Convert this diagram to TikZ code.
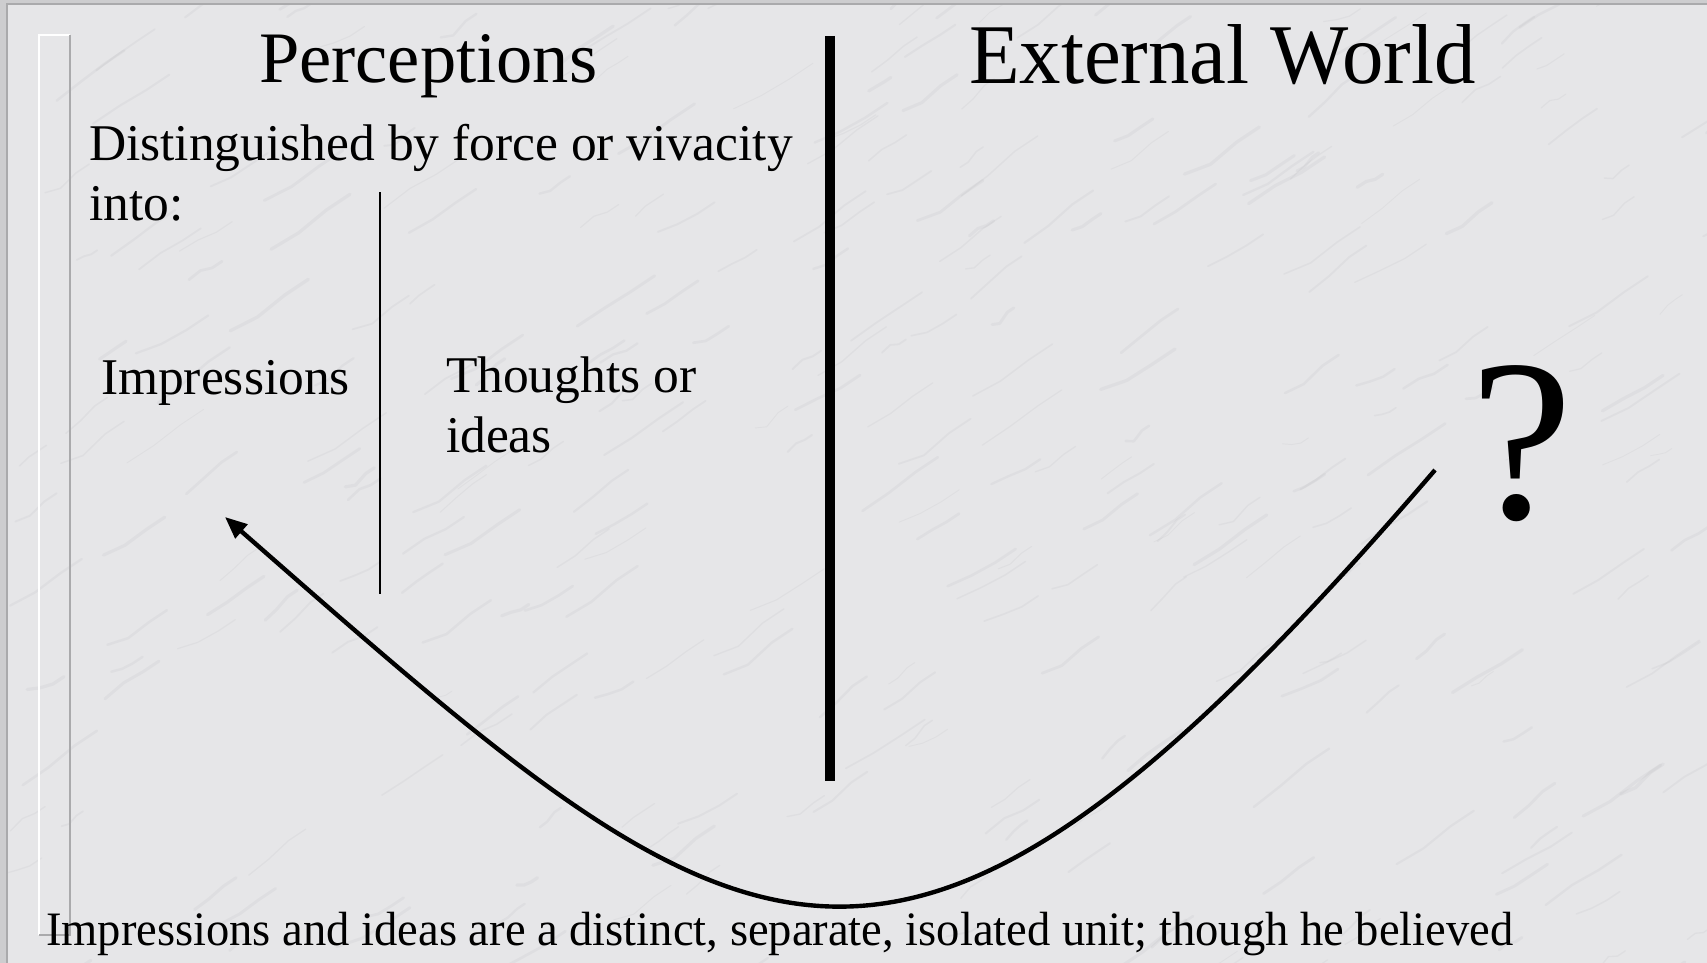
\documentclass[tikz,border=0pt]{standalone}
\usepackage{fontspec}
\setmainfont{Liberation Serif}
\usetikzlibrary{arrows.meta}
\definecolor{marble}{RGB}{230,230,232}
\definecolor{marbledark}{RGB}{205,205,207}
\definecolor{framegray}{RGB}{170,170,172}
\definecolor{vein}{RGB}{150,150,155}
\tikzset{
  txt/.style={inner sep=0pt, outer sep=0pt, text=black},
  mid/.style={txt, font=\fontsize{51.5}{60}\selectfont, anchor=base west},
  divider/.style={draw=black, line width=2pt},
  bigdivider/.style={draw=black, line width=10pt},
  link/.style={draw=black, line width=4.4pt, -{Triangle[length=22pt,width=18pt]}},
  veinline/.style={draw=vein, draw opacity=0.09, line cap=round, line join=round}
}
\begin{document}
\begin{tikzpicture}[x=1pt,y=-1pt]
\useasboundingbox (0,0) rectangle (1707,963);
% background
\fill[marbledark] (0,0) rectangle (1707,963);
\fill[marble] (7,4) rectangle (1707,963);
\begin{scope}
\clip (7,4) rectangle (1707,963);
\pgfmathsetseed{11}
\foreach \i in {1,...,320} {
  \pgfmathsetmacro{\xx}{rnd*1750}
  \pgfmathsetmacro{\yy}{rnd*1000}
  \pgfmathsetmacro{\ll}{20+rnd*60}
  \pgfmathsetmacro{\ww}{0.8+rnd*2.5}
  \pgfmathsetmacro{\ja}{(rnd-0.5)*12}
  \pgfmathsetmacro{\jb}{(rnd-0.5)*12}
  \draw[veinline, line width=\ww pt] (\xx,\yy) -- ++(0.35*\ll,-0.2*\ll+\ja) -- ++(0.35*\ll,-0.25*\ll+\jb) -- ++(0.3*\ll,-0.2*\ll);
}
\end{scope}
\draw[framegray, line width=1.5pt] (7,963) -- (7,4) -- (1707,4);
% embossed strip
\draw[white, line width=1.5pt] (39,935) -- (39,35) -- (70,35);
\draw[framegray, line width=1.5pt] (70,35) -- (70,935) -- (39,935);
% texts
\node[txt, font=\fontsize{72.5}{80}\selectfont, anchor=base west] (perc) at (259,83) {Perceptions};
\node[txt, font=\fontsize{85}{95}\selectfont, anchor=base west, xscale=0.975] (ext) at (969,84) {External World};
\node[mid] (dist1) at (89,160) {Distinguished by force or vivacity};
\node[mid] (dist2) at (89,220) {into:};
\node[mid] (impr) at (101,394) {Impressions};
\node[mid] (thou1) at (446,392) {Thoughts or};
\node[mid] (thou2) at (446,452) {ideas};
\node[txt, font=\fontsize{48}{56}\selectfont, anchor=base west, xscale=0.97] (bottom) at (46,945) {Impressions and ideas are a distinct, separate, isolated unit; though he believed};
\node[txt, font=\fontsize{231}{240}\selectfont, anchor=base] (quest) at (1522,518) {?};
% dividers
\coordinate (thinTop) at (380,192);
\coordinate (thinBot) at (380,594);
\coordinate (thickTop) at (830,36);
\coordinate (thickBot) at (830,781);
\draw[divider] (thinTop) -- (thinBot);
\draw[bigdivider] (thickTop) -- (thickBot);
% curved arrow
\coordinate (curveStart) at (1435,470);
\coordinate (impTip) at (225,517);
\draw[link] (curveStart) .. controls (888,1106) and (750,977) .. (impTip);
\end{tikzpicture}
\end{document}
